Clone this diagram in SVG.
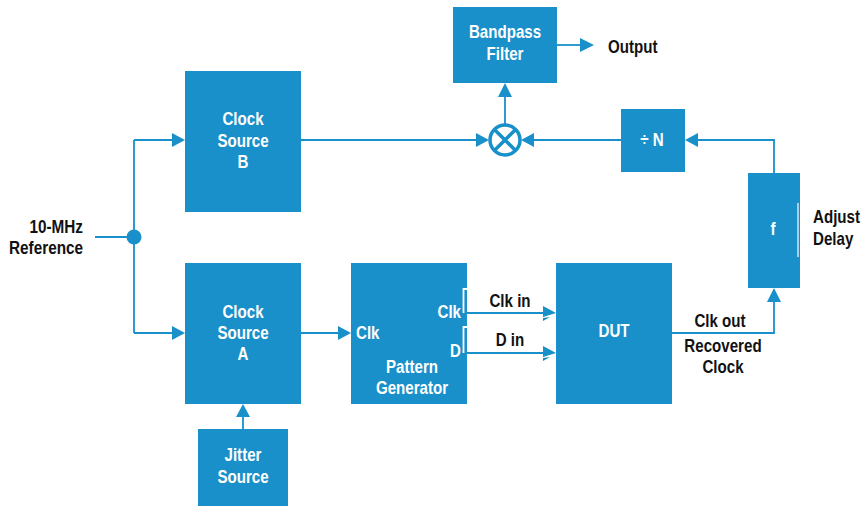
<svg xmlns="http://www.w3.org/2000/svg" width="862" height="506" viewBox="0 0 862 506">
<defs>
<style>
.box{fill:#1990ca}
.wt{fill:#ffffff;font-family:"Liberation Sans",Arial,sans-serif;font-size:18px;font-weight:bold;text-anchor:middle}
.bt{fill:#111111;font-family:"Liberation Sans",Arial,sans-serif;font-size:18px;font-weight:bold}
.ln{fill:none;stroke:#1990ca;stroke-width:1.8}
.ah{fill:#1990ca}
</style>
</defs>
<rect width="862" height="506" fill="#ffffff"/>
<g id="connectors">
<path class="ln" d="M95,237 H134 M134,140 V333 M134,140 H173 M134,333 H173"/>
<polygon class="ah" points="185,140 172,133 172,147"/>
<polygon class="ah" points="185,333 172,326 172,340"/>
<circle cx="134" cy="237" r="7.5" fill="#1990ca"/>
<path class="ln" d="M301,333 H339"/>
<polygon class="ah" points="351,333 338,326 338,340"/>
<path class="ln" d="M243,429 V416"/>
<polygon class="ah" points="243,404 236,417 250,417"/>
<path class="ln" d="M463,313 H544 M463,353 H544"/>
<polygon class="ah" points="556,313 543,306 543,317"/>
<polygon class="ah" points="543,318 550,317 543,321"/>
<polygon class="ah" points="556,353 543,346 543,357"/>
<polygon class="ah" points="543,358 550,357 543,361"/>
<path class="ln" d="M672,333 H774 V301"/>
<polygon class="ah" points="774,288 767,302 781,302"/>
<path class="ln" d="M774,173 V140 H697"/>
<polygon class="ah" points="685,140 698,133 698,147"/>
<path class="ln" d="M621,140 H533"/>
<polygon class="ah" points="521,140 534,133 534,147"/>
<path class="ln" d="M301,140 H477"/>
<polygon class="ah" points="489,140 476,133 476,147"/>
<path class="ln" d="M505,124 V96"/>
<polygon class="ah" points="505,83 498,97 512,97"/>
<path class="ln" d="M557,45 H581"/>
<polygon class="ah" points="594,45 580,38 580,52"/>
</g>
<g id="mixer">
<circle cx="505" cy="140" r="15" fill="#ffffff" stroke="#1990ca" stroke-width="3.5"/>
<path d="M494.4,129.4 L515.6,150.6 M515.6,129.4 L494.4,150.6" stroke="#1990ca" stroke-width="3.5"/>
</g>
<g id="ref-label">
<text class="bt" text-anchor="end" transform="translate(83,233) scale(0.85,1)">10-MHz</text>
<text class="bt" text-anchor="end" transform="translate(83,254) scale(0.85,1)">Reference</text>
</g>
<g id="clock-b">
<rect class="box" x="185" y="71" width="116" height="141"/>
<text class="wt" transform="translate(243,125) scale(0.84,1)">Clock</text>
<text class="wt" transform="translate(243,147) scale(0.84,1)">Source</text>
<text class="wt" transform="translate(243,168) scale(0.84,1)">B</text>
</g>
<g id="clock-a">
<rect class="box" x="185" y="263" width="116" height="141"/>
<text class="wt" transform="translate(243,318) scale(0.84,1)">Clock</text>
<text class="wt" transform="translate(243,339) scale(0.84,1)">Source</text>
<text class="wt" transform="translate(243,360) scale(0.84,1)">A</text>
</g>
<g id="jitter">
<rect class="box" x="198" y="429" width="90" height="77"/>
<text class="wt" transform="translate(243,461) scale(0.84,1)">Jitter</text>
<text class="wt" transform="translate(243,483) scale(0.84,1)">Source</text>
</g>
<g id="pattern-gen">
<rect class="box" x="351" y="263" width="116" height="141"/>
<text class="wt" style="text-anchor:start" transform="translate(356,339) scale(0.84,1)">Clk</text>
<text class="wt" style="text-anchor:end" transform="translate(461,318) scale(0.84,1)">Clk</text>
<text class="wt" style="text-anchor:end" transform="translate(461,357) scale(0.84,1)">D</text>
<text class="wt" transform="translate(412,373) scale(0.84,1)">Pattern</text>
<text class="wt" transform="translate(412,394) scale(0.84,1)">Generator</text>
<path d="M467,289 H463.5 V313 M467,327 H463.5 V353" fill="none" stroke="#ffffff" stroke-width="1.8"/>
</g>
<g id="dut">
<rect class="box" x="556" y="263" width="116" height="141"/>
<text class="wt" transform="translate(614,337) scale(0.84,1)">DUT</text>
</g>
<g id="io-labels">
<text class="bt" text-anchor="middle" transform="translate(510,307) scale(0.84,1)">Clk in</text>
<text class="bt" text-anchor="middle" transform="translate(510,346) scale(0.84,1)">D in</text>
<text class="bt" text-anchor="middle" transform="translate(720,327) scale(0.84,1)">Clk out</text>
<text class="bt" text-anchor="middle" transform="translate(723,352) scale(0.84,1)">Recovered</text>
<text class="bt" text-anchor="middle" transform="translate(723,373) scale(0.84,1)">Clock</text>
</g>
<g id="delay">
<rect class="box" x="748" y="173" width="52" height="115"/>
<line x1="798" y1="203" x2="798" y2="257" stroke="#ffffff" stroke-width="1.2"/>
<text class="wt" transform="translate(773,235) scale(0.84,1)">f</text>
<text class="bt" transform="translate(813,223) scale(0.84,1)">Adjust</text>
<text class="bt" transform="translate(813,245) scale(0.84,1)">Delay</text>
</g>
<g id="divide">
<rect class="box" x="621" y="109" width="64" height="63"/>
<text class="wt" transform="translate(652,146) scale(0.84,1)">÷ N</text>
</g>
<g id="bandpass">
<rect class="box" x="453" y="7" width="104" height="76"/>
<text class="wt" transform="translate(505,38) scale(0.84,1)">Bandpass</text>
<text class="wt" transform="translate(505,60) scale(0.84,1)">Filter</text>
</g>
<g id="output-label">
<text class="bt" transform="translate(608,53) scale(0.84,1)">Output</text>
</g>
</svg>
